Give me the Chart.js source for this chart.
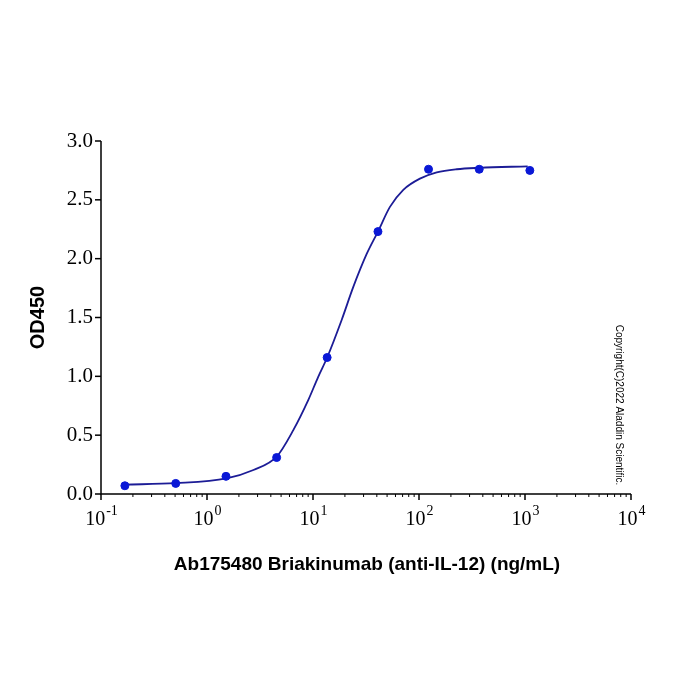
<!DOCTYPE html>
<html>
<head>
<meta charset="utf-8">
<script src="https://cdn.jsdelivr.net/npm/chart.js@4.4.0/dist/chart.umd.min.js"></script>
<style>
  html, body { margin: 0; padding: 0; background: #fff; }
  #wrap { width: 700px; height: 700px; }
</style>
</head>
<body>
<div id="wrap"><canvas id="odCanvas"></canvas></div>
<script>
// Data
const doses = [0.168, 0.507, 1.51, 4.54, 13.6, 41, 123, 370, 1111];
const od450 = [0.07, 0.09, 0.15, 0.31, 1.16, 2.23, 2.76, 2.76, 2.75];

// fitted curve
const fitDoses = [0.168, 0.507, 1.53, 2.74, 4.54, 6.52, 9.04, 11.2, 13.6, 18.6, 24.0, 32.1, 41, 53.2, 71.1, 102, 147, 227, 371, 1060];
const fitOd = [0.08, 0.092, 0.133, 0.204, 0.317, 0.543, 0.80, 0.996, 1.16, 1.477, 1.76, 2.04, 2.23, 2.44, 2.585, 2.68, 2.733, 2.76, 2.772, 2.785];

const xPowers = [-1, 0, 1, 2, 3, 4];
const yTicks = [0, 0.5, 1.0, 1.5, 2.0, 2.5, 3.0];

const xTitle = "Ab175480 Briakinumab (anti-IL-12) (ng/mL)";
const yTitle = "OD450";
const copyright = "Copyright(C)2022 Aladdin Scientific.";

const serif = '"Liberation Serif", "Times New Roman", serif';
const sans = '"Liberation Sans", Arial, sans-serif';

// Axes, ticks and labels drawn by hand so they look like the original
const axesPlugin = {
    id: "axesPlugin",
    afterDraw(chart) {
        const ctx = chart.ctx;
        const xs = chart.scales.x;
        const ys = chart.scales.y;
        const left = xs.left, right = xs.right;
        const top = ys.top, bottom = ys.bottom;
        ctx.save();
        ctx.strokeStyle = "#000";
        ctx.fillStyle = "#000";
        ctx.lineWidth = 1.5;

        // axis lines
        ctx.beginPath();
        ctx.moveTo(left, top);
        ctx.lineTo(left, bottom);
        ctx.lineTo(right, bottom);
        ctx.stroke();

        // y ticks + labels
        ctx.font = "21px " + serif;
        ctx.textAlign = "right";
        ctx.textBaseline = "middle";
        for (const v of yTicks) {
            const py = ys.getPixelForValue(v);
            ctx.beginPath();
            ctx.moveTo(left - 6, py);
            ctx.lineTo(left, py);
            ctx.stroke();
            ctx.fillText(v.toFixed(1), left - 8, py);
        }

        // x ticks: majors at powers of ten, minors 2..9
        for (let p = xPowers[0]; p < xPowers[xPowers.length - 1]; p++) {
            for (let m = 2; m <= 9; m++) {
                const px = xs.getPixelForValue(m * Math.pow(10, p));
                ctx.lineWidth = 1;
                ctx.beginPath();
                ctx.moveTo(px, bottom);
                ctx.lineTo(px, bottom + 3);
                ctx.stroke();
            }
        }
        ctx.lineWidth = 1.5;
        for (const p of xPowers) {
            const px = xs.getPixelForValue(Math.pow(10, p));
            ctx.beginPath();
            ctx.moveTo(px, bottom);
            ctx.lineTo(px, bottom + 6);
            ctx.stroke();
            // "10" with raised exponent
            ctx.textAlign = "left";
            ctx.textBaseline = "alphabetic";
            const base = "10";
            const exp = String(p);
            ctx.font = "20px " + serif;
            const wb = ctx.measureText(base).width;
            ctx.font = "14px " + serif;
            const we = ctx.measureText(exp).width;
            const x0 = px - (wb + we) / 2;
            ctx.font = "20px " + serif;
            ctx.fillText(base, x0, bottom + 31);
            ctx.font = "14px " + serif;
            ctx.fillText(exp, x0 + wb + 1, bottom + 21);
        }

        // titles
        ctx.font = "bold 19px " + sans;
        ctx.textAlign = "center";
        ctx.textBaseline = "middle";
        ctx.fillText(xTitle, (left + right) / 2 + 1, 565);

        ctx.save();
        ctx.translate(38, (top + bottom) / 2);
        ctx.rotate(-Math.PI / 2);
        ctx.font = "bold 20px " + sans;
        ctx.fillText(yTitle, 0, 0);
        ctx.restore();

        ctx.save();
        ctx.translate(619, 405);
        ctx.rotate(Math.PI / 2);
        ctx.font = "10px " + sans;
        ctx.fillText(copyright, 0, 0);
        ctx.restore();

        ctx.restore();
    }
};

const odChart = new Chart(document.getElementById("odCanvas").getContext("2d"), {
    type: "scatter",
    data: {
        datasets: [
            {
                label: "fit",
                data: fitDoses.map((d, i) => ({ x: d, y: fitOd[i] })),
                showLine: true,
                borderColor: "#1c1c96",
                borderWidth: 1.8,
                pointRadius: 0,
                cubicInterpolationMode: "monotone",
                order: 2
            },
            {
                label: "OD450",
                data: doses.map((d, i) => ({ x: d, y: od450[i] })),
                backgroundColor: "#0a18d6",
                borderColor: "#0a18d6",
                pointRadius: 4,
                order: 1
            }
        ]
    },
    options: {
        responsive: true,
        maintainAspectRatio: false,
        animation: false,
        events: [],
        layout: {
            padding: { left: 101, right: 69, top: 141, bottom: 206 }
        },
        plugins: {
            legend: { display: false },
            tooltip: { enabled: false }
        },
        scales: {
            x: {
                type: "logarithmic",
                min: 0.1,
                max: 10000,
                ticks: { display: false },
                grid: { display: false, drawTicks: false },
                border: { display: false }
            },
            y: {
                min: 0,
                max: 3,
                ticks: { display: false },
                grid: { display: false, drawTicks: false },
                border: { display: false }
            }
        }
    },
    plugins: [axesPlugin]
});
</script>
</body>
</html>
